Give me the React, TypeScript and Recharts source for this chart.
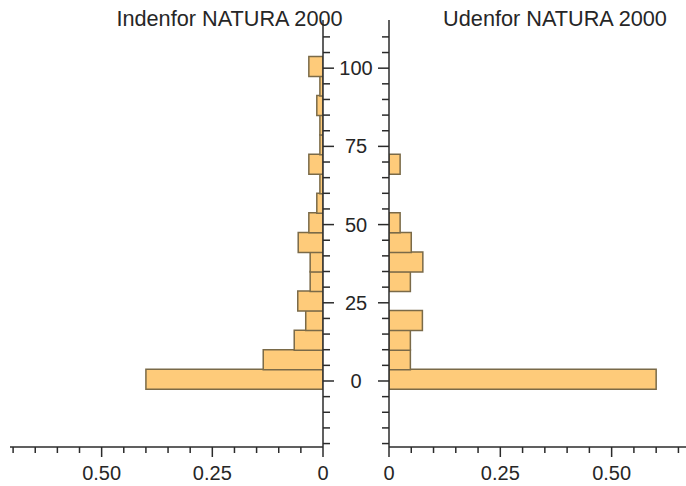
import React from 'react';
import { BarChart, Bar, XAxis, YAxis } from 'recharts';

// bin midpoints (bins are 6.25 wide, first one spans -2.5 .. 3.75)
const binCenters = [
  0.625, 6.875, 13.125, 19.375, 25.625, 31.875, 38.125, 44.375, 50.625,
  56.875, 63.125, 69.375, 75.625, 81.875, 88.125, 94.375, 100.625,
];

// share of observations per bin
const insideShare = [
  0.4, 0.135, 0.065, 0.039, 0.057, 0.029, 0.029, 0.056, 0.032,
  0.014, 0.007, 0.032, 0.007, 0.007, 0.014, 0.007, 0.032,
];
const outsideShare = [
  0.6, 0.048, 0.048, 0.075, 0, 0.048, 0.076, 0.05, 0.025,
  0, 0, 0.025, 0, 0, 0, 0, 0,
];

const titles = ['Indenfor NATURA 2000', 'Udenfor NATURA 2000'];

const yTicks = [-20, -15, -10, -5, 0, 5, 10, 15, 20, 25, 30, 35, 40, 45, 50, 55, 60, 65, 70, 75, 80, 85, 90, 95, 100, 105, 110];
const leftXTicks = [0, 0.05, 0.1, 0.15, 0.2, 0.25, 0.3, 0.35, 0.4, 0.45, 0.5, 0.55, 0.6, 0.65, 0.7];
const rightXTicks = [0, 0.05, 0.1, 0.15, 0.2, 0.25, 0.3, 0.35, 0.4, 0.45, 0.5, 0.55, 0.6, 0.65];

const data = binCenters.map((bin, i) => ({
  bin,
  inside: insideShare[i],
  outside: outsideShare[i],
}));

const AXIS = '#2b2b2b';
const TEXT = '#262626';
const FILL = '#FECB7A';
const EDGE = '#7A6A48';
const FONT = '"Liberation Sans", Arial, sans-serif';

const isMajorY = (v: number) => v >= 0 && v <= 100 && v % 25 === 0;

const YTickRight = (props: any) => {
  const { x, y, payload } = props;
  const major = isMajorY(payload.value);
  return (
    <g>
      <line x1={x} x2={x + (major ? 11 : 7)} y1={y} y2={y} stroke={AXIS} strokeWidth={1.5} />
      {major && (
        <text x={x + 33} y={y} dy={7} textAnchor="middle" fontSize={20} fill={TEXT} fontFamily={FONT}>
          {payload.value}
        </text>
      )}
    </g>
  );
};

const YTickLeft = (props: any) => {
  const { x, y, payload } = props;
  const major = isMajorY(payload.value);
  return <line x1={x} x2={x - (major ? 11 : 7)} y1={y} y2={y} stroke={AXIS} strokeWidth={1.5} />;
};

const XTick = (props: any) => {
  const { x, y, payload } = props;
  const v = payload.value;
  const major = Math.abs(v * 4 - Math.round(v * 4)) < 1e-6 && v <= 0.5;
  return (
    <g>
      <line x1={x} x2={x} y1={y} y2={y + (major ? 10 : 6)} stroke={AXIS} strokeWidth={1.5} />
      {major && (
        <text x={x} y={y + 33} textAnchor="middle" fontSize={20} fill={TEXT} fontFamily={FONT}>
          {v === 0 ? '0' : v.toFixed(2)}
        </text>
      )}
    </g>
  );
};

const layer: React.CSSProperties = { position: 'absolute', left: 0, top: 0 };

export default function App() {
  return (
    <div style={{ position: 'absolute', left: 0, top: 0, width: 686, height: 486, background: '#fff' }}>
      <div style={layer}>
        <BarChart width={686} height={486} data={data} layout="vertical" barCategoryGap={0} barGap={0}
          margin={{ top: 20, right: 330, left: 10, bottom: 0 }}>
          <XAxis type="number" reversed domain={[0, 0.707]} allowDataOverflow ticks={leftXTicks} interval={0} height={39}
            tickSize={0} tickMargin={0} tickLine={false} axisLine={{ stroke: AXIS, strokeWidth: 1.5 }} tick={<XTick />} />
          <YAxis type="number" dataKey="bin" orientation="right" reversed width={33} domain={[-21.1, 115.4]} allowDataOverflow
            ticks={yTicks} interval={0} tickSize={0} tickMargin={0} tickLine={false}
            axisLine={{ stroke: AXIS, strokeWidth: 1.5 }} tick={<YTickRight />} />
          <Bar dataKey="inside" fill={FILL} stroke={EDGE} strokeWidth={1.5} isAnimationActive={false} />
        </BarChart>
      </div>
      <div style={layer}>
        <BarChart width={686} height={486} data={data} layout="vertical" barCategoryGap={0} barGap={0}
          margin={{ top: 20, right: 0, left: 356, bottom: 0 }}>
          <XAxis type="number" domain={[0, 0.667]} allowDataOverflow ticks={rightXTicks} interval={0} height={39}
            tickSize={0} tickMargin={0} tickLine={false} axisLine={{ stroke: AXIS, strokeWidth: 1.5 }} tick={<XTick />} />
          <YAxis type="number" dataKey="bin" orientation="left" reversed width={33} domain={[-21.1, 115.4]} allowDataOverflow
            ticks={yTicks} interval={0} tickSize={0} tickMargin={0} tickLine={false}
            axisLine={{ stroke: AXIS, strokeWidth: 1.5 }} tick={<YTickLeft />} />
          <Bar dataKey="outside" fill={FILL} stroke={EDGE} strokeWidth={1.5} isAnimationActive={false} />
        </BarChart>
      </div>
      <svg width={686} height={40} style={layer}>
        <text x={229.5} y={26} textAnchor="middle" fontSize={21.7} fill={TEXT} fontFamily={FONT}>{titles[0]}</text>
        <text x={555} y={26} textAnchor="middle" fontSize={21.7} fill={TEXT} fontFamily={FONT}>{titles[1]}</text>
      </svg>
    </div>
  );
}
